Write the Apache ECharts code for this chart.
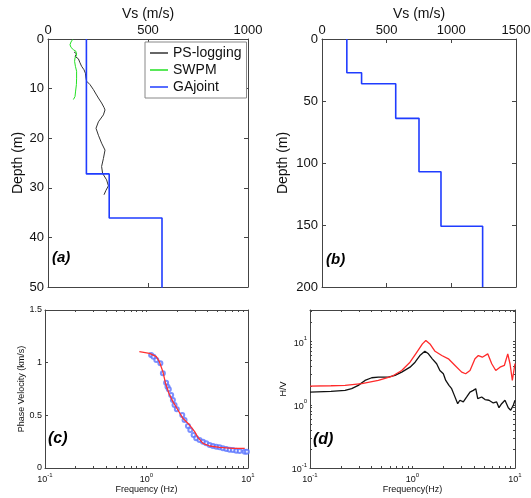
<!DOCTYPE html>
<html>
<head>
<meta charset="utf-8">
<script src="https://cdn.jsdelivr.net/npm/echarts@6/dist/echarts.min.js"></script>
<style>
  html, body { margin: 0; padding: 0; background: #fff; }
  #chart { width: 531px; height: 498px; }
</style>
</head>
<body>
<div id="chart"></div>
<script>
// ---- data ----
// GAjoint layered model: shear velocity (m/s) and layer interfaces (m)
var gaVs = [192, 306, 570, 750, 920, 1242];
var gaInterfaces = [0, 27.2, 36.1, 64, 107, 151, 200];

// PS-logging profile [Vs, depth]
var psLogging = [
  [130, 2.6], [143, 3.0], [135, 3.5], [152, 4.0], [160, 4.8], [168, 5.5],
  [180, 6.2], [187, 6.9], [190, 7.9], [193, 8.5], [210, 9.2], [227, 10.2],
  [240, 11.1], [252, 11.9], [268, 12.9], [280, 13.8], [285, 14.3], [277, 15.3],
  [252, 16.7], [240, 18.0], [252, 19.4], [268, 21.0], [285, 22.4], [277, 24.1],
  [268, 25.7], [273, 27.1], [293, 28.4], [302, 29.6], [290, 30.5], [280, 31.4]
];

// SWPM profile [Vs, depth]
var swpm = [
  [123, 0.1], [115, 0.6], [110, 1.15], [115, 1.7], [127, 2.15], [140, 2.5],
  [147, 2.8], [143, 3.3], [135, 3.8], [133, 4.5], [137, 5.5], [143, 6.5],
  [143, 7.9], [142, 9.2], [138, 10.5], [135, 11.6], [127, 12.2]
];

// (c) dispersion curve: observed (circles) and theoretical (red), [Hz, km/s]
var dispObserved = [
  [1.11, 1.073], [1.17, 1.057], [1.25, 1.026], [1.37, 0.994], [1.45, 0.899],
  [1.56, 0.81], [1.61, 0.772], [1.66, 0.747], [1.75, 0.693], [1.82, 0.646],
  [1.89, 0.598], [1.99, 0.557], [2.25, 0.503], [2.37, 0.456], [2.56, 0.399],
  [2.70, 0.361], [2.91, 0.313], [3.09, 0.282], [3.33, 0.266], [3.60, 0.25],
  [3.88, 0.234], [4.19, 0.218], [4.52, 0.209], [4.88, 0.202], [5.25, 0.196],
  [5.66, 0.187], [6.12, 0.18], [6.60, 0.174], [7.10, 0.171], [7.67, 0.164],
  [8.28, 0.161], [9.28, 0.155], [9.75, 0.155]
];
var dispTheory = [
  [0.85, 1.104], [1.07, 1.089], [1.25, 1.057], [1.34, 1.009], [1.45, 0.915],
  [1.54, 0.804], [1.66, 0.709], [1.82, 0.63], [2.04, 0.551], [2.28, 0.472],
  [2.66, 0.408], [2.98, 0.345], [3.21, 0.291], [3.60, 0.234], [4.19, 0.209],
  [5.25, 0.196], [7.10, 0.187], [9.28, 0.187]
];

// (d) H/V curves [Hz, H/V]
var hvTheory = [
  [0.1, 1.98], [0.16, 2.0], [0.22, 2.03], [0.32, 2.16], [0.464, 2.43],
  [0.627, 2.81], [0.785, 3.49], [0.946, 4.72], [1.1, 6.78], [1.25, 9.2],
  [1.35, 10.4], [1.48, 9.2], [1.66, 7.03], [1.93, 6.02], [2.24, 5.34],
  [2.6, 4.19], [3.02, 3.29], [3.3, 3.1], [3.64, 3.49], [4.07, 5.34],
  [4.39, 6.02], [4.8, 5.66], [5.42, 6.4], [5.93, 4.46], [6.49, 3.49],
  [7.14, 3.94], [7.87, 4.19], [8.5, 6.4], [8.94, 4.46], [9.42, 2.43],
  [10, 4.5]
];
var hvObserved = [
  [0.1, 1.59], [0.16, 1.63], [0.22, 1.69], [0.255, 1.8], [0.296, 2.03],
  [0.344, 2.43], [0.4, 2.68], [0.464, 2.74], [0.58, 2.74], [0.675, 2.92],
  [0.785, 3.29], [0.946, 3.94], [1.06, 4.72], [1.18, 6.02], [1.32, 7.03],
  [1.43, 6.4], [1.56, 5.34], [1.72, 4.46], [1.85, 3.49], [2.0, 3.1],
  [2.11, 2.43], [2.27, 2.03], [2.41, 1.8], [2.56, 1.41], [2.76, 1.04],
  [2.9, 1.18], [3.13, 1.11], [3.38, 1.33], [3.64, 1.59], [3.92, 1.69],
  [4.14, 1.8], [4.33, 1.25], [4.73, 1.33], [5.1, 1.21], [5.57, 1.18],
  [6.14, 1.07], [6.62, 1.11], [6.98, 0.9], [7.41, 1.04], [7.98, 1.18],
  [8.6, 0.9], [9.08, 0.82], [9.64, 0.99], [10, 1.18]
];

// tick positions
var freqLabels = [0.1, 1, 10];
var freqTicks = [0.1, 0.2, 0.3, 0.4, 0.5, 0.6, 0.7, 0.8, 0.9, 1, 2, 3, 4, 5, 6, 7, 8, 9, 10];
var hvLabels = [0.1, 1, 10];
var hvTicks = [0.1, 0.2, 0.3, 0.4, 0.5, 0.6, 0.7, 0.8, 0.9, 1, 2, 3, 4, 5, 6, 7, 8, 9, 10, 20, 30];

var FONT = '"Liberation Sans", Arial, sans-serif';
var AXIS_COLOR = '#444';

// step profile from layer velocities + interfaces
function stepProfile(vs, iface) {
  var pts = [];
  for (var i = 0; i < vs.length; i++) {
    pts.push([vs[i], iface[i]]);
    pts.push([vs[i], iface[i + 1]]);
  }
  return pts;
}

function powLabel(v) {
  var e = Math.round(Math.log(v) / Math.LN10);
  return '{b|10}{s|' + e + '}';
}

function axis(opt) {
  var a = {
    gridIndex: opt.grid,
    type: opt.type || 'value',
    position: opt.position,
    min: opt.min,
    max: opt.max,
    interval: opt.interval,
    inverse: !!opt.inverse,
    splitLine: { show: false },
    axisLine: { show: true, onZero: false, lineStyle: { color: AXIS_COLOR, width: 1 } },
    axisTick: { show: true, inside: true, length: opt.tickLen || 4, lineStyle: { color: AXIS_COLOR } },
    axisLabel: {
      show: !opt.mirror,
      color: '#111',
      fontFamily: FONT,
      fontSize: opt.fontSize || 13,
      margin: opt.margin == null ? 4 : opt.margin,
      formatter: function (v) { return String(v); }
    }
  };
  if (opt.type === 'log') {
    a.logBase = 10;
    a.axisTick.customValues = opt.ticks;
    a.axisTick.length = 2;
    a.axisLabel.customValues = opt.labels;
    a.axisLabel.formatter = powLabel;
    a.axisLabel.rich = {
      b: { fontSize: 9, fontFamily: FONT, color: '#111', lineHeight: 12, verticalAlign: 'bottom' },
      s: { fontSize: 6, fontFamily: FONT, color: '#111', lineHeight: 7, verticalAlign: 'top' }
    };
  }
  if (opt.name && !opt.mirror) {
    a.name = opt.name;
    a.nameLocation = 'middle';
    a.nameGap = opt.nameGap;
    a.nameTextStyle = { color: '#111', fontFamily: FONT, fontSize: opt.nameSize || opt.fontSize || 14 };
  }
  return a;
}

var grids = [
  { left: 48, top: 39, width: 200, height: 248 },
  { left: 322, top: 39, width: 194, height: 248 },
  { left: 45, top: 310, width: 203, height: 158 },
  { left: 310, top: 310, width: 205, height: 158 }
];
grids.forEach(function (g) { g.containLabel = false; g.outerBoundsMode = 'none'; });

var xAxes = [
  axis({ grid: 0, position: 'top', min: 0, max: 1000, interval: 500, name: 'Vs (m/s)', nameSize: 14, nameGap: 18, margin: 2 }),
  axis({ grid: 0, position: 'bottom', min: 0, max: 1000, interval: 500, mirror: true }),
  axis({ grid: 1, position: 'top', min: 0, max: 1500, interval: 500, name: 'Vs (m/s)', nameSize: 14, nameGap: 18, margin: 2 }),
  axis({ grid: 1, position: 'bottom', min: 0, max: 1500, interval: 500, mirror: true }),
  axis({ grid: 2, type: 'log', position: 'bottom', min: 0.1, max: 10, ticks: freqTicks, labels: freqLabels,
         name: 'Frequency (Hz)', nameGap: 15, fontSize: 9, margin: 4 }),
  axis({ grid: 2, type: 'log', position: 'top', min: 0.1, max: 10, ticks: freqTicks, labels: freqLabels, mirror: true }),
  axis({ grid: 3, type: 'log', position: 'bottom', min: 0.1, max: 10, ticks: freqTicks, labels: freqLabels,
         name: 'Frequency(Hz)', nameGap: 15, fontSize: 9, margin: 4 }),
  axis({ grid: 3, type: 'log', position: 'top', min: 0.1, max: 10, ticks: freqTicks, labels: freqLabels, mirror: true })
];

var yAxes = [
  axis({ grid: 0, position: 'left', min: 0, max: 50, interval: 10, inverse: true, name: 'Depth (m)', nameSize: 14, nameGap: 23 }),
  axis({ grid: 0, position: 'right', min: 0, max: 50, interval: 10, inverse: true, mirror: true }),
  axis({ grid: 1, position: 'left', min: 0, max: 200, interval: 50, inverse: true, name: 'Depth (m)', nameSize: 14, nameGap: 32 }),
  axis({ grid: 1, position: 'right', min: 0, max: 200, interval: 50, inverse: true, mirror: true }),
  axis({ grid: 2, position: 'left', min: 0, max: 1.5, interval: 0.5, name: 'Phase Velocity (km/s)',
         nameGap: 17, fontSize: 9, margin: 3, tickLen: 3 }),
  axis({ grid: 2, position: 'right', min: 0, max: 1.5, interval: 0.5, mirror: true, tickLen: 3 }),
  axis({ grid: 3, type: 'log', position: 'left', min: 0.1, max: 31.62, ticks: hvTicks, labels: hvLabels,
         name: 'H/V', nameGap: 22, fontSize: 9, margin: 3 }),
  axis({ grid: 3, type: 'log', position: 'right', min: 0.1, max: 31.62, ticks: hvTicks, labels: hvLabels, mirror: true })
];

function lineSeries(name, data, xi, yi, color, width) {
  return {
    name: name, type: 'line', data: data, xAxisIndex: xi, yAxisIndex: yi,
    symbol: 'none', smooth: false, animation: false,
    lineStyle: { color: color, width: width },
    itemStyle: { color: color }
  };
}

var gaProfile = stepProfile(gaVs, gaInterfaces);

var option = {
  backgroundColor: '#fff',
  animation: false,
  grid: grids,
  xAxis: xAxes,
  yAxis: yAxes,
  legend: {
    data: ['PS-logging', 'SWPM', 'GAjoint'],
    orient: 'vertical',
    left: 145, top: 42,
    icon: 'rect',
    itemWidth: 18, itemHeight: 1.5, itemGap: 3,
    padding: [4, 5, 4, 5],
    borderColor: '#888', borderWidth: 1, borderRadius: 0,
    backgroundColor: '#fff',
    textStyle: { color: '#111', fontFamily: FONT, fontSize: 14, lineHeight: 14 }
  },
  series: [
    lineSeries('PS-logging', psLogging, 0, 0, '#333', 1),
    lineSeries('SWPM', swpm, 0, 0, '#22e022', 1),
    lineSeries('GAjoint', gaProfile, 0, 0, '#1f3cff', 1.6),
    lineSeries('GAjoint', gaProfile, 2, 2, '#1f3cff', 1.6),
    {
      name: 'observed', type: 'scatter', data: dispObserved, xAxisIndex: 4, yAxisIndex: 4,
      symbol: 'emptyCircle', symbolSize: 4,
      itemStyle: { color: '#5a74ff', borderColor: '#5a74ff', borderWidth: 0.8 }
    },
    lineSeries('theory', dispTheory, 4, 4, '#ff3030', 1.3),
    lineSeries('H/V observed', hvObserved, 6, 6, '#111', 1.3),
    lineSeries('H/V theory', hvTheory, 6, 6, '#ff2a2a', 1.3)
  ],
  graphic: [
    { type: 'text', left: 52, top: 250, style: { text: '(a)', font: 'italic bold 15px ' + FONT, fill: '#000' } },
    { type: 'text', left: 326, top: 252, style: { text: '(b)', font: 'italic bold 15px ' + FONT, fill: '#000' } },
    { type: 'text', left: 48, top: 431, style: { text: '(c)', font: 'italic bold 16px ' + FONT, fill: '#000' } },
    { type: 'text', left: 313, top: 432, style: { text: '(d)', font: 'italic bold 16px ' + FONT, fill: '#000' } }
  ]
};

var myChart = echarts.init(document.getElementById('chart'));
myChart.setOption(option);
</script>
</body>
</html>
